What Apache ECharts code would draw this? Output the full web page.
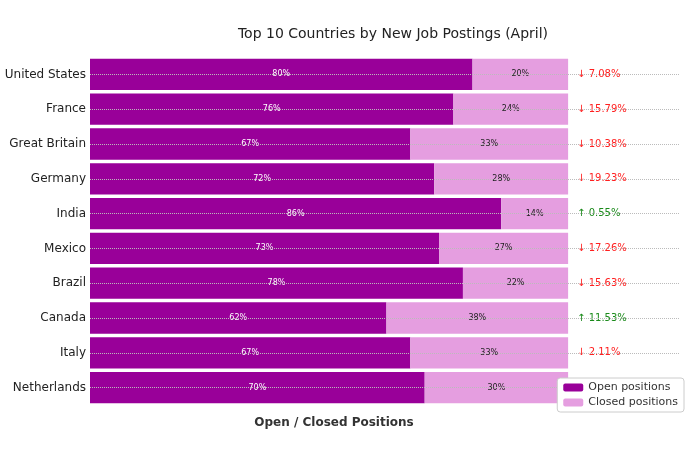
<!DOCTYPE html><html><head><meta charset="utf-8"><script src="https://cdn.jsdelivr.net/npm/echarts@6/dist/echarts.min.js"></script></head><body style="margin:0"><div id="c" style="width:700px;height:452px"></div><script>
const countries=["United States","France","Great Britain","Germany","India","Mexico","Brazil","Canada","Italy","Netherlands"];
const openPct=[80,76,67,72,86,73,78,62,67,70];
const closedPct=[20,24,33,28,14,27,22,38,33,30];
const changes=[-7.08,-15.79,-10.38,-19.23,0.55,-17.26,-15.63,11.53,-2.11,-11.03];
const ch=echarts.init(document.getElementById('c'));
const font='DejaVu Sans';
ch.setOption({
 textStyle:{fontFamily:font},
 title:[{text:'Top 10 Countries by New Job Postings (April)',left:388,top:22,textAlign:'center',textStyle:{fontFamily:font,fontSize:14,fontWeight:'normal',color:'#222'}},
  {text:'Open / Closed Positions',left:329,top:412,textAlign:'center',textStyle:{fontFamily:font,fontSize:12,fontWeight:'bold',color:'#333'}}],
 grid:{left:90,right:20,top:57,bottom:47},
 xAxis:{type:'value',min:0,max:123.4,show:false},
 yAxis:{type:'category',data:countries,inverse:true,axisLine:{show:false},axisTick:{show:false},axisLabel:{color:'#222',fontSize:12,margin:4}},
 legend:{right:16,bottom:40,orient:'vertical',itemWidth:20,itemHeight:8,itemGap:4,padding:[4,6],borderColor:'#ccc',borderWidth:1,borderRadius:3,backgroundColor:'#fff',textStyle:{fontSize:11,color:'#333'},data:['Open positions','Closed positions'],z:10},
 series:[
  {name:'Open positions',type:'bar',stack:'s',barWidth:'90%',data:openPct,itemStyle:{color:'#990099'},
   label:{show:true,position:'inside',color:'#fff',fontSize:8,formatter:p=>p.value+'%'},
   markLine:{silent:true,symbol:'none',label:{show:false},lineStyle:{color:'#bbb',type:'dotted',width:1},data:countries.map(c=>({yAxis:c})),z:5}},
  {name:'Closed positions',type:'bar',stack:'s',data:closedPct,itemStyle:{color:'#e59ee0'},
   label:{show:true,position:'inside',color:'#222',fontSize:8,formatter:p=>p.value+'%'}},
  {name:'chg',type:'bar',stack:'s',data:changes.map(v=>({value:23.4,chg:v})),itemStyle:{color:'rgba(0,0,0,0)'},
   label:{show:true,position:'insideLeft',distance:9,fontSize:10,
    formatter:p=>{const v=changes[p.dataIndex];return v<0?'{r|↓ '+Math.abs(v).toFixed(2)+'%}':'{g|↑ '+v.toFixed(2)+'%}';},
    rich:{r:{color:'#ff2020',fontSize:10,backgroundColor:'#fff'},g:{color:'#1a8a1a',fontSize:10,backgroundColor:'#fff'}}}}
 ]
});
</script></body></html>
